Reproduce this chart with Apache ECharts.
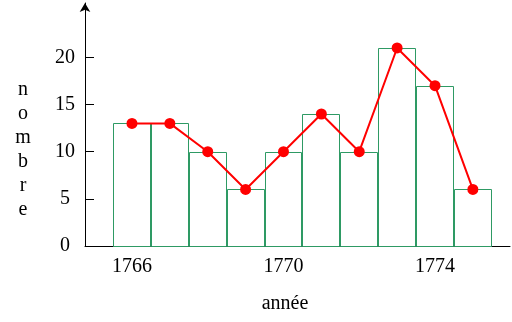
<!DOCTYPE html>
<html><head><meta charset="utf-8">
<script src="https://cdn.jsdelivr.net/npm/echarts@6/dist/echarts.min.js"></script>
<style>html,body{margin:0;padding:0;background:#fff}#c{width:512px;height:322px}</style>
</head><body><div id="c"></div>
<script>
var years = [1766,1767,1768,1769,1770,1771,1772,1773,1774,1775];
var counts = [13,13,10,6,10,14,10,21,17,6];
var yTicks = [0,5,10,15,20];
var xTicks = [1766,1770,1774];

var chart = echarts.init(document.getElementById('c'));
var font = 'Liberation Serif';
var pts = years.map(function(y,i){return [y,counts[i]];});
chart.setOption({
  animation:false,
  grid:{left:85,right:2,top:3,bottom:76},
  xAxis:{type:'value',min:1764.76,max:1775.98,
    axisLine:{lineStyle:{color:'#000',width:1}},
    axisTick:{inside:true,length:9,lineStyle:{color:'#000'},customValues:xTicks},
    axisLabel:{customValues:xTicks,color:'#000',fontFamily:font,fontSize:20,margin:11,formatter:function(v){return String(v);}},
    splitLine:{show:false}},
  yAxis:{type:'value',min:0,max:25.77,
    axisLine:{show:true,symbol:['none','arrow'],symbolSize:[8,9],symbolOffset:[0,0],lineStyle:{color:'#000',width:1}},
    axisTick:{show:true,inside:true,length:9,lineStyle:{color:'#000'},customValues:yTicks},
    axisLabel:{customValues:yTicks,color:'#000',fontFamily:font,fontSize:20,margin:20,align:'center'},
    splitLine:{show:false}},
  graphic:[
    {type:'text',x:23,y:78,style:{text:'n\no\nm\nb\nr\ne',fontFamily:font,fontSize:20,lineHeight:24,fill:'#000',align:'center'}},
    {type:'text',x:285,y:294,style:{text:'année',fontFamily:font,fontSize:20,fill:'#000',align:'center'}}
  ],
  series:[
    {type:'custom',z:1,data:pts,renderItem:function(params,api){
      var x=api.value(0),v=api.value(1);
      var p1=api.coord([x-0.5,v]),p2=api.coord([x+0.5,0]);
      var l=Math.round(p1[0]),r=Math.round(p2[0]);
      return {type:'rect',shape:{x:l+0.5,y:Math.round(p1[1])+0.5,width:r-l-1,height:Math.round(p2[1]-p1[1])},
        style:{fill:'#fff',stroke:'#2e9a64',lineWidth:1}};
    }},
    {type:'line',z:3,data:pts,symbol:'circle',symbolSize:11,
      lineStyle:{color:'#ff0000',width:2},itemStyle:{color:'#ff0000'}}
  ]
});
</script></body></html>
